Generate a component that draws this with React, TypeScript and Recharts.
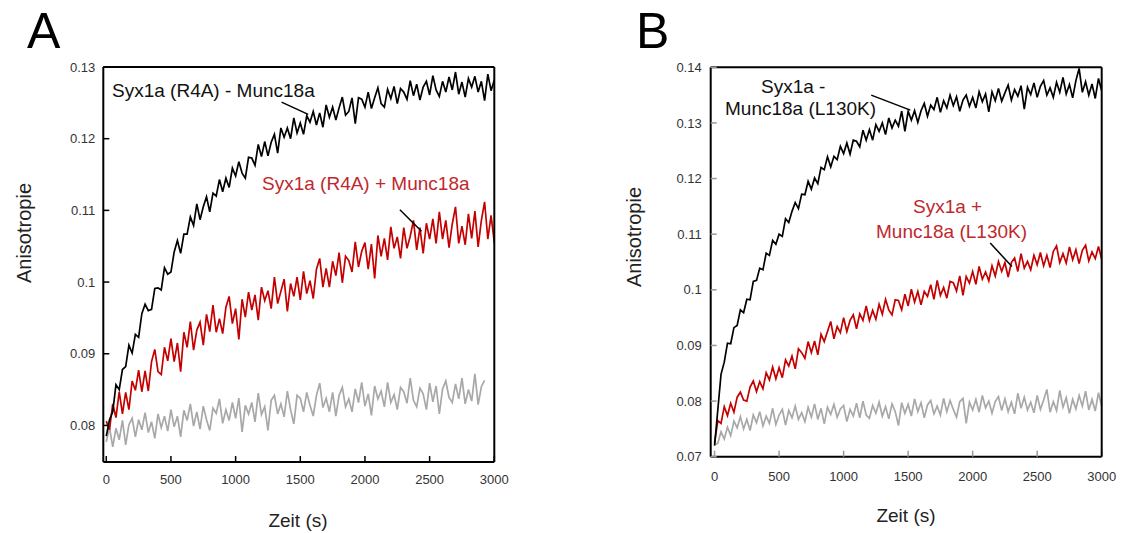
import { LineChart, Line, XAxis, YAxis, ReferenceLine } from "recharts";

// sampling grid (s)
const TIME_S = [
  0, 25, 50, 75, 100, 125, 150, 175, 200, 225, 250, 275, 300, 325, 350, 375, 400, 425, 450, 475,
  500, 525, 550, 575, 600, 625, 650, 675, 700, 725, 750, 775, 800, 825, 850, 875, 900, 925, 950, 975,
  1000, 1025, 1050, 1075, 1100, 1125, 1150, 1175, 1200, 1225, 1250, 1275, 1300, 1325, 1350, 1375,
  1400, 1425, 1450, 1475, 1500, 1525, 1550, 1575, 1600, 1625, 1650, 1675, 1700, 1725, 1750, 1775,
  1800, 1825, 1850, 1875, 1900, 1925, 1950, 1975, 2000, 2025, 2050, 2075, 2100, 2125, 2150, 2175,
  2200, 2225, 2250, 2275, 2300, 2325, 2350, 2375, 2400, 2425, 2450, 2475, 2500, 2525, 2550, 2575,
  2600, 2625, 2650, 2675, 2700, 2725, 2750, 2775, 2800, 2825, 2850, 2875, 2900, 2925, 2950, 2975,
  3000,
];

// Panel A: Syx1a (R4A) - Munc18a
const A_BLACK = [
  0.0785, 0.0808, 0.0819, 0.0857, 0.0850, 0.0878, 0.0882, 0.0912, 0.0901, 0.0927,
  0.0923, 0.0956, 0.0969, 0.0960, 0.0962, 0.0991, 0.0992, 0.0989, 0.1020, 0.1011,
  0.1014, 0.1042, 0.1058, 0.1040, 0.1067, 0.1067, 0.1091, 0.1079, 0.1109, 0.1087,
  0.1105, 0.1119, 0.1098, 0.1124, 0.1120, 0.1143, 0.1126, 0.1145, 0.1132, 0.1159,
  0.1148, 0.1168, 0.1152, 0.1145, 0.1174, 0.1173, 0.1163, 0.1192, 0.1175, 0.1196,
  0.1176, 0.1195, 0.1206, 0.1180, 0.1215, 0.1202, 0.1215, 0.1200, 0.1229, 0.1208,
  0.1222, 0.1206, 0.1232, 0.1223, 0.1238, 0.1219, 0.1236, 0.1216, 0.1247, 0.1230,
  0.1244, 0.1226, 0.1243, 0.1258, 0.1233, 0.1238, 0.1257, 0.1221, 0.1257, 0.1255,
  0.1244, 0.1265, 0.1242, 0.1257, 0.1271, 0.1249, 0.1244, 0.1269, 0.1256, 0.1273,
  0.1249, 0.1270, 0.1265, 0.1255, 0.1281, 0.1260, 0.1276, 0.1254, 0.1272, 0.1280,
  0.1261, 0.1288, 0.1268, 0.1259, 0.1280, 0.1265, 0.1286, 0.1268, 0.1293, 0.1262,
  0.1279, 0.1258, 0.1284, 0.1272, 0.1287, 0.1265, 0.1280, 0.1253, 0.1290, 0.1267,
  0.1282,
];

// Panel A: Syx1a (R4A) + Munc18a
const A_RED = [
  0.0806, 0.0794, 0.0830, 0.0811, 0.0847, 0.0816, 0.0846, 0.0822, 0.0862, 0.0849,
  0.0877, 0.0847, 0.0876, 0.0848, 0.0889, 0.0906, 0.0875, 0.0871, 0.0909, 0.0890,
  0.0921, 0.0889, 0.0915, 0.0875, 0.0930, 0.0909, 0.0945, 0.0905, 0.0933, 0.0944,
  0.0912, 0.0955, 0.0931, 0.0968, 0.0930, 0.0949, 0.0928, 0.0965, 0.0980, 0.0942,
  0.0963, 0.0920, 0.0976, 0.0951, 0.0986, 0.0961, 0.0982, 0.0947, 0.0993, 0.0974,
  0.0988, 0.0963, 0.1007, 0.0970, 0.0987, 0.1004, 0.0959, 0.0998, 0.0980, 0.1007,
  0.0975, 0.1015, 0.0984, 0.1002, 0.0977, 0.1018, 0.1033, 0.0993, 0.1019, 0.0993,
  0.1029, 0.1009, 0.1041, 0.0999, 0.1036, 0.1030, 0.1014, 0.1056, 0.1021, 0.1043,
  0.1055, 0.1018, 0.1053, 0.1005, 0.1065, 0.1036, 0.1061, 0.1031, 0.1077, 0.1047,
  0.1063, 0.1033, 0.1076, 0.1047, 0.1064, 0.1086, 0.1045, 0.1076, 0.1040, 0.1082,
  0.1060, 0.1088, 0.1054, 0.1098, 0.1060, 0.1086, 0.1048, 0.1081, 0.1105, 0.1054,
  0.1078, 0.1052, 0.1095, 0.1061, 0.1099, 0.1049, 0.1086, 0.1112, 0.1060, 0.1093,
  0.1055,
];

// Panel A: control (stops at 2925 s)
const A_GRAY = [
  0.0777, 0.0797, 0.0770, 0.0796, 0.0780, 0.0807, 0.0773, 0.0801, 0.0810, 0.0784,
  0.0808, 0.0794, 0.0818, 0.0790, 0.0805, 0.0782, 0.0816, 0.0797, 0.0813, 0.0792,
  0.0822, 0.0798, 0.0813, 0.0784, 0.0821, 0.0807, 0.0830, 0.0799, 0.0819, 0.0795,
  0.0827, 0.0808, 0.0793, 0.0824, 0.0817, 0.0837, 0.0803, 0.0822, 0.0807, 0.0832,
  0.0810, 0.0838, 0.0791, 0.0828, 0.0816, 0.0832, 0.0805, 0.0845, 0.0815, 0.0826,
  0.0793, 0.0835, 0.0842, 0.0816, 0.0830, 0.0812, 0.0848, 0.0822, 0.0802, 0.0842,
  0.0838, 0.0819, 0.0846, 0.0828, 0.0813, 0.0842, 0.0859, 0.0825, 0.0838, 0.0819,
  0.0846, 0.0813, 0.0842, 0.0853, 0.0826, 0.0837, 0.0819, 0.0851, 0.0832, 0.0860,
  0.0827, 0.0844, 0.0814, 0.0855, 0.0837, 0.0848, 0.0826, 0.0860, 0.0832, 0.0843,
  0.0822, 0.0853, 0.0847, 0.0831, 0.0866, 0.0835, 0.0826, 0.0852, 0.0844, 0.0822,
  0.0859, 0.0833, 0.0855, 0.0816, 0.0851, 0.0862, 0.0839, 0.0832, 0.0858, 0.0837,
  0.0866, 0.0830, 0.0850, 0.0834, 0.0872, 0.0829, 0.0854, 0.0863,
];

// Panel B: Syx1a - Munc18a (L130K)
const B_BLACK = [
  0.0720, 0.0784, 0.0848, 0.0870, 0.0904, 0.0903, 0.0932, 0.0936, 0.0964, 0.0959,
  0.0983, 0.0982, 0.1015, 0.1017, 0.1039, 0.1036, 0.1066, 0.1062, 0.1089, 0.1082,
  0.1100, 0.1096, 0.1128, 0.1121, 0.1141, 0.1157, 0.1146, 0.1172, 0.1171, 0.1195,
  0.1181, 0.1201, 0.1191, 0.1220, 0.1216, 0.1239, 0.1221, 0.1240, 0.1234, 0.1258,
  0.1245, 0.1264, 0.1244, 0.1269, 0.1267, 0.1257, 0.1287, 0.1269, 0.1288, 0.1269,
  0.1297, 0.1285, 0.1300, 0.1279, 0.1309, 0.1291, 0.1305, 0.1294, 0.1321, 0.1285,
  0.1321, 0.1305, 0.1322, 0.1301, 0.1322, 0.1335, 0.1312, 0.1332, 0.1324, 0.1346,
  0.1319, 0.1340, 0.1327, 0.1350, 0.1331, 0.1347, 0.1321, 0.1341, 0.1350, 0.1330,
  0.1346, 0.1327, 0.1356, 0.1338, 0.1352, 0.1320, 0.1356, 0.1340, 0.1362, 0.1339,
  0.1354, 0.1368, 0.1341, 0.1360, 0.1348, 0.1367, 0.1325, 0.1364, 0.1351, 0.1372,
  0.1346, 0.1366, 0.1376, 0.1350, 0.1363, 0.1346, 0.1373, 0.1355, 0.1382, 0.1352,
  0.1369, 0.1345, 0.1376, 0.1398, 0.1355, 0.1374, 0.1350, 0.1370, 0.1344, 0.1380,
  0.1358,
];

// Panel B: Syx1a + Munc18a (L130K)
const B_RED = [
  0.0725, 0.0765, 0.0760, 0.0790, 0.0774, 0.0796, 0.0780, 0.0807, 0.0816, 0.0802,
  0.0800, 0.0825, 0.0836, 0.0817, 0.0835, 0.0822, 0.0851, 0.0838, 0.0861, 0.0840,
  0.0860, 0.0842, 0.0874, 0.0863, 0.0881, 0.0858, 0.0894, 0.0887, 0.0877, 0.0907,
  0.0887, 0.0908, 0.0883, 0.0920, 0.0907, 0.0925, 0.0943, 0.0912, 0.0934, 0.0923,
  0.0950, 0.0925, 0.0945, 0.0955, 0.0930, 0.0957, 0.0945, 0.0971, 0.0945, 0.0963,
  0.0947, 0.0974, 0.0956, 0.0983, 0.0964, 0.0955, 0.0982, 0.0981, 0.0964, 0.0992,
  0.0971, 0.1001, 0.0978, 0.0997, 0.0973, 0.0997, 0.0988, 0.1009, 0.0983, 0.1017,
  0.0990, 0.1004, 0.0985, 0.1015, 0.1013, 0.0998, 0.1025, 0.0990, 0.1024, 0.1012,
  0.1033, 0.1010, 0.1042, 0.1019, 0.1032, 0.1016, 0.1043, 0.1025, 0.1051, 0.1033,
  0.1049, 0.1023, 0.1049, 0.1057, 0.1033, 0.1065, 0.1039, 0.1051, 0.1036, 0.1062,
  0.1045, 0.1067, 0.1043, 0.1062, 0.1040, 0.1069, 0.1079, 0.1049, 0.1065, 0.1048,
  0.1077, 0.1054, 0.1072, 0.1047, 0.1071, 0.1080, 0.1052, 0.1068, 0.1056, 0.1078,
  0.1055,
];

// Panel B: control
const B_GRAY = [
  0.0722, 0.0724, 0.0745, 0.0732, 0.0753, 0.0738, 0.0764, 0.0752, 0.0772, 0.0750,
  0.0767, 0.0747, 0.0775, 0.0761, 0.0781, 0.0755, 0.0773, 0.0760, 0.0787, 0.0758,
  0.0775, 0.0785, 0.0757, 0.0783, 0.0770, 0.0791, 0.0767, 0.0779, 0.0763, 0.0789,
  0.0771, 0.0795, 0.0767, 0.0787, 0.0759, 0.0789, 0.0776, 0.0794, 0.0771, 0.0786,
  0.0792, 0.0763, 0.0785, 0.0773, 0.0796, 0.0770, 0.0800, 0.0775, 0.0769, 0.0792,
  0.0778, 0.0798, 0.0773, 0.0790, 0.0768, 0.0795, 0.0781, 0.0756, 0.0797, 0.0778,
  0.0794, 0.0773, 0.0804, 0.0781, 0.0797, 0.0770, 0.0793, 0.0801, 0.0777, 0.0791,
  0.0775, 0.0805, 0.0781, 0.0801, 0.0785, 0.0771, 0.0799, 0.0805, 0.0760, 0.0798,
  0.0784, 0.0803, 0.0780, 0.0810, 0.0788, 0.0800, 0.0778, 0.0799, 0.0808, 0.0783,
  0.0804, 0.0781, 0.0798, 0.0777, 0.0814, 0.0787, 0.0807, 0.0784, 0.0798, 0.0779,
  0.0810, 0.0785, 0.0802, 0.0821, 0.0780, 0.0799, 0.0783, 0.0819, 0.0789, 0.0806,
  0.0778, 0.0803, 0.0786, 0.0810, 0.0791, 0.0818, 0.0784, 0.0803, 0.0782, 0.0815,
  0.0791,
];

const X_TICKS = [0, 500, 1000, 1500, 2000, 2500, 3000];
const A_Y_TICKS = [0.08, 0.09, 0.1, 0.11, 0.12, 0.13];
const B_Y_TICKS = [0.07, 0.08, 0.09, 0.1, 0.11, 0.12, 0.13, 0.14];

// leader lines from the labels to the traces, in data units
const A_LEADERS = [
  [{ x: 1355, y: 0.1251 }, { x: 1561, y: 0.1234 }],
  [{ x: 2270, y: 0.1101 }, { x: 2437, y: 0.1071 }],
];
const B_LEADERS = [
  [{ x: 1214, y: 0.135 }, { x: 1517, y: 0.1323 }],
  [{ x: 2136, y: 0.1084 }, { x: 2304, y: 0.1042 }],
];

const FONT = "'Liberation Sans', Arial, Helvetica, sans-serif";
const TRACE_BLACK = "#000000";
const TRACE_RED = "#c40000";
const TRACE_GRAY = "#a8a8a8";
const TEXT_RED = "#c0282d";
const TRACE_WIDTH = 1.7;

type Pt = { x: number; y: number };

type PanelProps = {
  black: number[];
  red: number[];
  gray: number[];
  xDomain: [number, number];
  yDomain: [number, number];
  yTicks: number[];
  tickColor: string;
  leaders: Pt[][];
  width: number;
  margin: { top: number; right: number; bottom: number; left: number };
  xTickMargin: number;
  yTickMargin: number;
};

function Panel(p: PanelProps) {
  const rows = TIME_S.map((t, i) => ({
    t,
    black: p.black[i],
    red: p.red[i],
    gray: p.gray[i],
  }));
  const tickText = { fill: "#333", fontSize: 13, fontFamily: FONT };
  const frame = { stroke: "#000", strokeWidth: 2 };
  const tickLine = { stroke: p.tickColor, strokeWidth: 1.5 };

  return (
    <LineChart width={p.width} height={533} data={rows} margin={p.margin}>
      <XAxis
        dataKey="t"
        type="number"
        domain={p.xDomain}
        ticks={X_TICKS}
        interval={0}
        allowDataOverflow
        height={30}
        tickSize={-6}
        tickMargin={p.xTickMargin}
        tick={tickText}
        tickLine={tickLine}
        axisLine={frame}
      />
      <XAxis
        xAxisId="top"
        orientation="top"
        type="number"
        domain={p.xDomain}
        ticks={X_TICKS}
        interval={0}
        allowDataOverflow
        height={10}
        tickSize={-6}
        tick={false}
        tickLine={tickLine}
        axisLine={frame}
      />
      <YAxis
        type="number"
        domain={p.yDomain}
        ticks={p.yTicks}
        interval={0}
        allowDataOverflow
        width={60}
        tickSize={-6}
        tickMargin={p.yTickMargin}
        tick={tickText}
        tickLine={tickLine}
        axisLine={frame}
      />
      <YAxis
        yAxisId="right"
        orientation="right"
        type="number"
        domain={p.yDomain}
        ticks={p.yTicks}
        interval={0}
        allowDataOverflow
        width={10}
        tickSize={-6}
        tick={false}
        tickLine={tickLine}
        axisLine={frame}
      />
      <Line
        dataKey="gray"
        type="linear"
        stroke={TRACE_GRAY}
        strokeWidth={TRACE_WIDTH}
        dot={false}
        isAnimationActive={false}
      />
      <Line
        dataKey="red"
        type="linear"
        stroke={TRACE_RED}
        strokeWidth={TRACE_WIDTH}
        dot={false}
        isAnimationActive={false}
      />
      <Line
        dataKey="black"
        type="linear"
        stroke={TRACE_BLACK}
        strokeWidth={TRACE_WIDTH}
        dot={false}
        isAnimationActive={false}
      />
      {p.leaders.map((seg, i) => (
        <ReferenceLine
          key={i}
          segment={seg}
          stroke="#000"
          strokeWidth={1.5}
        />
      ))}
    </LineChart>
  );
}

export default function App() {
  return (
    <div
      style={{
        position: "absolute",
        left: 0,
        top: 0,
        width: 1124,
        height: 533,
        background: "#fff",
        fontFamily: FONT,
      }}
    >
      <div style={{ position: "absolute", left: 0, top: 0 }}>
        <Panel
          black={A_BLACK}
          red={A_RED}
          gray={A_GRAY}
          xDomain={[-23, 3000]}
          yDomain={[0.0749, 0.13]}
          yTicks={A_Y_TICKS}
          tickColor="#000"
          leaders={A_LEADERS}
          width={520}
          margin={{ top: 57, right: 15.7, bottom: 41, left: 43.3 }}
          xTickMargin={19}
          yTickMargin={14}
        />
      </div>
      <div style={{ position: "absolute", left: 600, top: 0 }}>
        <Panel
          black={B_BLACK}
          red={B_RED}
          gray={B_GRAY}
          xDomain={[-30, 3000]}
          yDomain={[0.07, 0.14]}
          yTicks={B_Y_TICKS}
          tickColor="#9a9a9a"
          leaders={B_LEADERS}
          width={524}
          margin={{ top: 57.3, right: 12.3, bottom: 46.3, left: 50.7 }}
          xTickMargin={21}
          yTickMargin={15}
        />
      </div>
      <svg
        width={1124}
        height={533}
        style={{ position: "absolute", left: 0, top: 0, pointerEvents: "none" }}
        fontFamily={FONT}
      >
        <text x={27} y={48} fontSize={50} fill="#000">A</text>
        <text x={636} y={48} fontSize={50} fill="#000">B</text>

        <text transform="translate(31,233) rotate(-90)" textAnchor="middle" fontSize={20} fill="#222">
          Anisotropie
        </text>
        <text transform="translate(641,237) rotate(-90)" textAnchor="middle" fontSize={20} fill="#222">
          Anisotropie
        </text>
        <text x={298} y={527} textAnchor="middle" fontSize={19} fill="#222">Zeit (s)</text>
        <text x={906} y={522} textAnchor="middle" fontSize={19} fill="#222">Zeit (s)</text>

        <text x={112} y={97} fontSize={19} fill="#111">Syx1a (R4A) - Munc18a</text>
        <text x={262} y={190} fontSize={19} fill={TEXT_RED}>Syx1a (R4A) + Munc18a</text>

        <text x={761} y={93} fontSize={19} fill="#111">Syx1a -</text>
        <text x={725} y={115} fontSize={19} fill="#111">Munc18a (L130K)</text>
        <text x={913} y={213} fontSize={19} fill={TEXT_RED}>Syx1a +</text>
        <text x={876} y={238} fontSize={19} fill={TEXT_RED}>Munc18a (L130K)</text>
      </svg>
    </div>
  );
}
